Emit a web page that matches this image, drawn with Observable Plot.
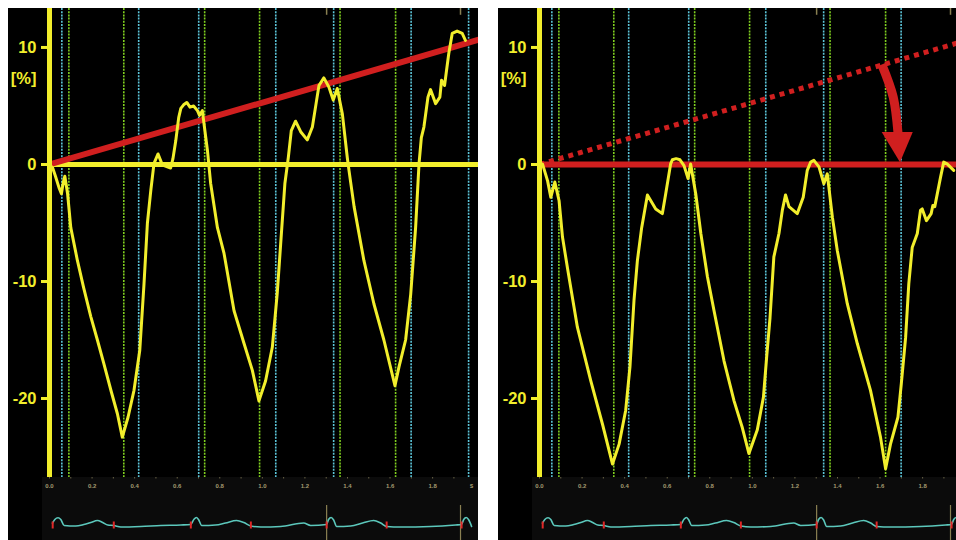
<!DOCTYPE html>
<html><head><meta charset="utf-8">
<script src="https://cdn.jsdelivr.net/npm/d3@7"></script>
<script src="https://cdn.jsdelivr.net/npm/@observablehq/plot@0.6"></script>
<style>
body{margin:0;background:#fff;width:956px;height:540px;overflow:hidden;position:relative;font-family:"Liberation Sans",Arial,sans-serif}
.panel{position:absolute;top:8px;height:532px;background:#000;overflow:hidden}
.main{position:absolute;left:0;top:0;width:470px;height:469px}
.strip{position:absolute;left:34px;top:469px;width:436px;height:63px}
.panel svg{display:block;max-width:none !important}
</style></head><body>
<div id="left" class="panel" style="left:8px;width:470px"><div class="main"></div><div class="strip"></div></div>
<div id="right" class="panel" style="left:498px;width:458px"><div class="main"></div><div class="strip"></div></div>
<script>
// ---- data ----
const yTicks = [10, 0, -10, -20];
const xTickLabels = [0, 0.2, 0.4, 0.6, 0.8, 1.0, 1.2, 1.4, 1.6, 1.8];
const xMinorTicks = [0.1, 0.3, 0.5, 0.7, 0.9, 1.1, 1.3, 1.5, 1.7, 1.9];
const unitLabelT = [1.983];
const cyanT = [0.058, 0.419, 0.701, 1.063, 1.335, 1.699, 1.969];
const greenT = [0.091, 0.349, 0.729, 0.987, 1.365, 1.626];
const eventT = [1.302, 1.931];
const ecgMarkT = [0.015, 0.302, 0.664, 0.946, 1.302, 1.584, 1.936];

const ecgT = [0.014,0.025,0.040,0.053,0.069,0.123,0.161,0.194,0.225,0.250,0.274,0.302,0.335,0.429,0.523,0.617,0.663,0.678,0.690,0.700,0.715,0.780,0.827,0.879,0.913,0.946,0.993,1.086,1.194,1.227,1.302,1.311,1.323,1.335,1.349,1.415,1.471,1.523,1.556,1.584,1.650,1.790,1.908,1.936,1.946,1.958,1.970,1.983];
const ecgV = [2.3,6,7.7,6,0,-0.5,1,3,5,3,0.5,0,-1.5,-1,0,0.5,1,6,8,6,0,0.5,2.5,5,3,-0.5,-1.5,-1,2.5,0,1,6,8,5.5,-1,-0.5,2.5,5,2.5,-1,-1.5,-1,0.5,1,6,8,5.5,-1];

// raw strain (left panel, before drift correction)
const rawT = [0,0.015,0.028,0.045,0.056,0.065,0.072,0.085,0.100,0.131,0.160,0.194,0.225,0.255,0.290,0.319,0.342,0.369,0.397,0.424,0.444,0.460,0.476,0.491,0.510,0.525,0.538,0.569,0.580,0.593,0.607,0.617,0.630,0.645,0.660,0.677,0.695,0.705,0.718,0.742,0.757,0.789,0.820,0.867,0.914,0.953,0.984,1.015,1.047,1.070,1.086,1.106,1.122,1.136,1.156,1.180,1.211,1.235,1.255,1.266,1.289,1.313,1.333,1.352,1.376,1.399,1.407,1.431,1.477,1.524,1.571,1.623,1.642,1.673,1.697,1.720,1.736,1.747,1.759,1.778,1.790,1.814,1.834,1.842,1.856,1.876,1.892,1.915,1.939,1.954];
const rawV = [0,-0.3,-1.0,-2.0,-2.5,-1.5,-1.0,-2.5,-5.4,-8.2,-10.5,-13.0,-15.0,-17.0,-19.4,-21.3,-23.3,-21.6,-19.3,-15.9,-10.2,-5.0,-2.2,0.1,0.9,0.2,-0.1,-0.3,0.5,2.0,4.0,4.8,5.1,5.3,4.9,5.0,4.6,4.2,4.6,1.2,-1.6,-5.4,-7.6,-12.5,-15.3,-17.6,-20.2,-18.5,-15.6,-11.0,-6.8,-1.6,0.6,2.9,3.7,2.8,2.1,3.2,5.5,6.75,7.4,6.6,5.5,6.5,4.3,0.6,-0.5,-3.6,-8.2,-11.9,-15.0,-18.9,-17.3,-15.0,-11.1,-5.4,0.05,2.3,3.2,5.75,6.4,5.2,5.75,7.2,6.75,9.5,11.2,11.4,11.2,10.6];

// drift-corrected strain (right panel)
const corrT = [0,0.014,0.038,0.053,0.072,0.092,0.108,0.131,0.178,0.241,0.296,0.343,0.374,0.405,0.425,0.444,0.460,0.480,0.507,0.546,0.577,0.593,0.616,0.624,0.642,0.660,0.679,0.698,0.710,0.734,0.758,0.789,0.820,0.867,0.914,0.953,0.984,1.023,1.052,1.067,1.083,1.101,1.125,1.141,1.156,1.172,1.211,1.239,1.258,1.274,1.289,1.313,1.336,1.352,1.376,1.399,1.446,1.493,1.555,1.602,1.626,1.649,1.684,1.700,1.720,1.735,1.751,1.775,1.790,1.798,1.818,1.840,1.848,1.857,1.884,1.899,1.915,1.946];
const corrV = [0,0.05,-1.4,-2.8,-1.5,-3.1,-6.2,-8.8,-13.9,-18.5,-22.2,-25.6,-23.9,-21.0,-17.3,-11.6,-8.2,-5.4,-2.6,-3.8,-4.2,-2.5,0.05,0.4,0.5,0.4,-0.1,-1.2,0.05,-2.5,-5.9,-9.6,-12.5,-16.8,-20.2,-22.5,-24.7,-22.7,-19.9,-16.5,-13.1,-7.9,-5.9,-3.9,-2.6,-3.6,-4.2,-2.8,-0.5,0.2,0.35,-0.2,-1.65,-0.8,-4.5,-7.35,-11.9,-15.3,-19.3,-23.3,-26.0,-23.9,-21.6,-18.7,-14.8,-10.2,-7.1,-5.9,-3.9,-3.8,-4.8,-4.2,-3.5,-3.6,-1.1,0.2,0.05,-0.5];

const driftT = [0, 2.1];
const driftV = [0, 11.1];
const arrowT = [1.608, 1.662, 1.684];
const arrowV = [8.55, 5.75, 2.74];
const headT = [1.610, 1.696, 1.756];
const headTop = [2.74, 2.74, 2.74];
const headV = [2.74, 0.15, 2.74];

// ---- styles ----
const YEL = "#f2ee2c", RED = "#d01f1f", CYAN = "#5cc6da", GREEN = "#80d020", TAN = "#8a8052";
const FONT = "'Liberation Sans', Arial, sans-serif";
const X_DOMAIN = [0, 2.0155];

const zip = (T, V) => T.map((t, i) => ({t, v: V[i]}));

function mainPlot(curve, corrected) {
  const marks = [
    Plot.ruleX(greenT, {stroke: GREEN, strokeWidth: 1.6, strokeDasharray: "2,1.2"}),
    Plot.ruleX(cyanT, {stroke: CYAN, strokeWidth: 1.6, strokeDasharray: "2,1.2"}),
    Plot.ruleX(eventT, {y1: 13.4, y2: 12.75, stroke: TAN, strokeWidth: 1.5})
  ];
  const drift = zip(driftT, driftV);
  if (!corrected) {
    marks.push(Plot.ruleY([0], {stroke: YEL, strokeWidth: 5}));
    marks.push(Plot.line(drift, {x: "t", y: "v", stroke: RED, strokeWidth: 6, strokeLinecap: "butt", clip: true}));
  } else {
    marks.push(Plot.line(drift, {x: "t", y: "v", stroke: RED, strokeWidth: 5, strokeLinecap: "butt", strokeDasharray: "5,5", clip: true}));
    marks.push(Plot.ruleY([0], {stroke: RED, strokeWidth: 6}));
    marks.push(Plot.line(zip(arrowT, arrowV), {x: "t", y: "v", stroke: RED, strokeWidth: 9, strokeLinecap: "butt", curve: "natural"}));
    marks.push(Plot.areaY(headT.map((t, i) => ({t, a: headTop[i], b: headV[i]})), {x: "t", y1: "a", y2: "b", fill: RED}));
  }
  marks.push(Plot.line(curve, {x: "t", y: "v", stroke: YEL, strokeWidth: 3, clip: true}));
  marks.push(Plot.ruleX([0], {stroke: YEL, strokeWidth: 5}));
  marks.push(Plot.axisY(yTicks, {anchor: "left", tickSize: 8, tickPadding: 5, tickFormat: d => `${d}`, stroke: YEL, strokeWidth: 3, fill: YEL, fontSize: 16.5, fontWeight: "bold", label: null}));
  marks.push(Plot.text(["[%]"], {frameAnchor: "top-left", dx: -13, dy: 70, textAnchor: "end", lineAnchor: "middle", fill: YEL, fontSize: 16.5, fontWeight: "bold"}));
  return Plot.plot({
    width: 470, height: 469,
    marginLeft: 41, marginRight: 0, marginTop: 0, marginBottom: 0,
    x: {domain: X_DOMAIN, axis: null},
    y: {domain: [-26.75, 13.33], axis: null},
    style: {background: "#000", color: YEL, fontFamily: FONT, overflow: "visible"},
    marks
  });
}

function stripPlot(showUnit) {
  const marks = [
    Plot.ruleX(xMinorTicks.concat(xTickLabels), {y1: 48, y2: 46.5, stroke: "#6a6448", strokeWidth: 1}),
    Plot.text(xTickLabels, {x: d => d, frameAnchor: "top", dy: 6, text: d => d.toFixed(1), fill: "#a39a70", fontSize: 6, fontWeight: "bold"}),
    Plot.ruleX(eventT, {y1: 20, y2: -15, stroke: TAN, strokeWidth: 1.2}),
    Plot.line(zip(ecgT, ecgV), {x: "t", y: "v", stroke: "#5cc8bc", strokeWidth: 1.6, curve: "monotone-x"}),
    Plot.ruleX(ecgMarkT, {y1: -3.5, y2: 3.5, stroke: "#e02828", strokeWidth: 2})
  ];
  if (showUnit) marks.push(Plot.text(unitLabelT, {x: d => d, frameAnchor: "top", dy: 6, text: () => "s", fill: "#a39a70", fontSize: 6.5, fontWeight: "bold"}));
  return Plot.plot({
    width: 436, height: 63,
    marginLeft: 7, marginRight: 0, marginTop: 0, marginBottom: 0,
    x: {domain: X_DOMAIN, axis: null},
    y: {domain: [-15, 48], axis: null},
    style: {background: "#0b0b0b", color: TAN, fontFamily: FONT, overflow: "visible"},
    marks
  });
}

for (const [id, data, corrected] of [["left", zip(rawT, rawV), false], ["right", zip(corrT, corrV), true]]) {
  const panel = document.getElementById(id);
  panel.querySelector(".main").appendChild(mainPlot(data, corrected));
  panel.querySelector(".strip").appendChild(stripPlot(!corrected));
}
</script></body></html>
